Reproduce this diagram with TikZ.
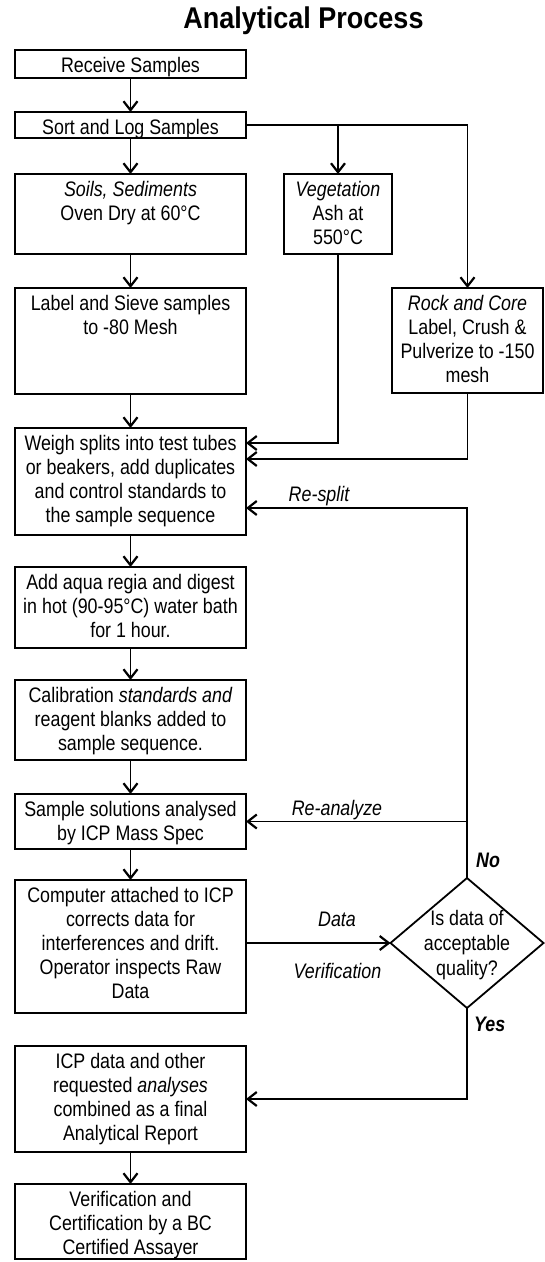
\documentclass[tikz,border=0pt]{standalone}
\usepackage{fontspec}
\setmainfont{Liberation Sans}[FakeStretch=0.85]
\newfontfamily\titlefont{Liberation Sans}[FakeStretch=0.9]
\usetikzlibrary{arrows.meta,shapes.geometric,calc}
\newcommand{\tbx}[3]{\parbox[c][#2pt][t]{#1pt}{\centering\rule{0pt}{22.5pt}#3\par}}
\tikzset{
  box/.style={draw,line width=1.8pt,inner sep=0pt,outer sep=0pt,font=\fontsize{21pt}{24pt}\selectfont},
  arr/.style={line width=1.8pt,-{Straight Barb[length=9pt,width=14pt,line width=2.2pt]}},
  lab/.style={font=\fontsize{21pt}{24pt}\selectfont\itshape,inner sep=0pt,anchor=base},
  yn/.style={font=\fontsize{21pt}{24pt}\selectfont\bfseries\itshape,inner sep=0pt,anchor=base west},
  dia/.style={draw,diamond,line width=1.8pt,minimum width=153pt,minimum height=130pt,inner sep=0pt,outer sep=0pt},
  dtext/.style={font=\fontsize{21pt}{25pt}\selectfont,align=center,inner sep=0pt}
}
\begin{document}
\begin{tikzpicture}[x=1pt,y=-1pt]
\fill[white] (0,0) rectangle (544,1262);
\useasboundingbox (0,0) rectangle (544,1262);
\node[font={\titlefont\fontsize{30pt}{32pt}\selectfont\bfseries},anchor=base,inner sep=0pt] (title) at (303.5,28) {Analytical Process};

\node[box] (recv) at (130.5,64) {\tbx{231}{28}{Receive Samples}};
\node[box] (sort) at (130.5,125) {\tbx{231}{26}{Sort and Log Samples}};
\node[box] (soils) at (130.5,214) {\tbx{231}{80}{\textit{Soils, Sediments}\\Oven Dry at 60°C}};
\node[box] (veg) at (338,214) {\tbx{107.5}{80}{\textit{Vegetation}\\Ash at\\550°C}};
\node[box] (label) at (130.5,341) {\tbx{231}{106}{Label and Sieve samples\\to -80 Mesh}};
\node[box] (rock) at (467.5,340.5) {\tbx{151}{105}{\textit{Rock and Core}\\Label, Crush \&\\Pulverize to -150\\mesh}};
\node[box] (weigh) at (130.5,481.5) {\tbx{231}{107}{Weigh splits into test tubes\\or beakers, add duplicates\\and control standards to\\the sample sequence}};
\node[box] (aqua) at (130.5,607.5) {\tbx{231}{81}{Add aqua regia and digest\\in hot (90-95°C) water bath\\for 1 hour.}};
\node[box] (calib) at (130.5,720) {\tbx{231}{80}{Calibration \textit{standards and}\\reagent blanks added to\\sample sequence.}};
\node[box] (sample) at (130.5,821.5) {\tbx{231}{55}{Sample solutions analysed\\by ICP Mass Spec}};
\node[box] (comp) at (130.5,946.5) {\tbx{231}{133}{Computer attached to ICP\\corrects data for\\interferences and drift.\\Operator inspects Raw\\Data}};
\node[box] (icp) at (130.5,1099) {\tbx{231}{106}{ICP data and other\\requested \textit{analyses}\\combined as a final\\Analytical Report}};
\node[box] (verif) at (130.5,1221.5) {\tbx{231}{75}{Verification and\\Certification by a BC\\Certified Assayer}};

\node[dia] (q) at (467,943) {};
\node[dtext] (qt) at (467,945) {Is data of\\acceptable\\quality?};

\node[lab] (lsplit) at (319,501) {Re-split};
\node[lab] (lanal) at (337,815) {Re-analyze};
\node[lab] (ldata) at (337,926.5) {Data};
\node[lab] (lver) at (337.5,978) {Verification};
\node[yn] (lno) at (476,867) {No};
\node[yn] (lyes) at (474,1031) {Yes};

\draw[arr] (recv) -- (sort);
\draw[arr] (sort) -- (soils);
\draw[arr] (sort.east) -| (rock.north);
\draw[arr] (veg.north |- sort.east) -- (veg.north);
\draw[arr] (soils) -- (label);
\draw[arr] (label) -- (weigh);
\draw[arr] (veg.south) |- ([yshift=-15pt]weigh.north east);
\draw[arr] (rock.south) |- ([yshift=-31pt]weigh.north east);
\draw[arr] (weigh) -- (aqua);
\draw[arr] (aqua) -- (calib);
\draw[arr] (calib) -- (sample);
\draw[arr] (sample) -- (comp);
\draw[arr] (comp.east |- q.west) -- (q.west);
\draw[arr] (q.north) |- ([yshift=-80pt]weigh.north east);
\draw[arr] (q.north |- sample.east) -- (sample.east);
\draw[arr] (q.south) |- (icp.east);
\draw[arr] (icp) -- (verif);
\end{tikzpicture}
\end{document}
